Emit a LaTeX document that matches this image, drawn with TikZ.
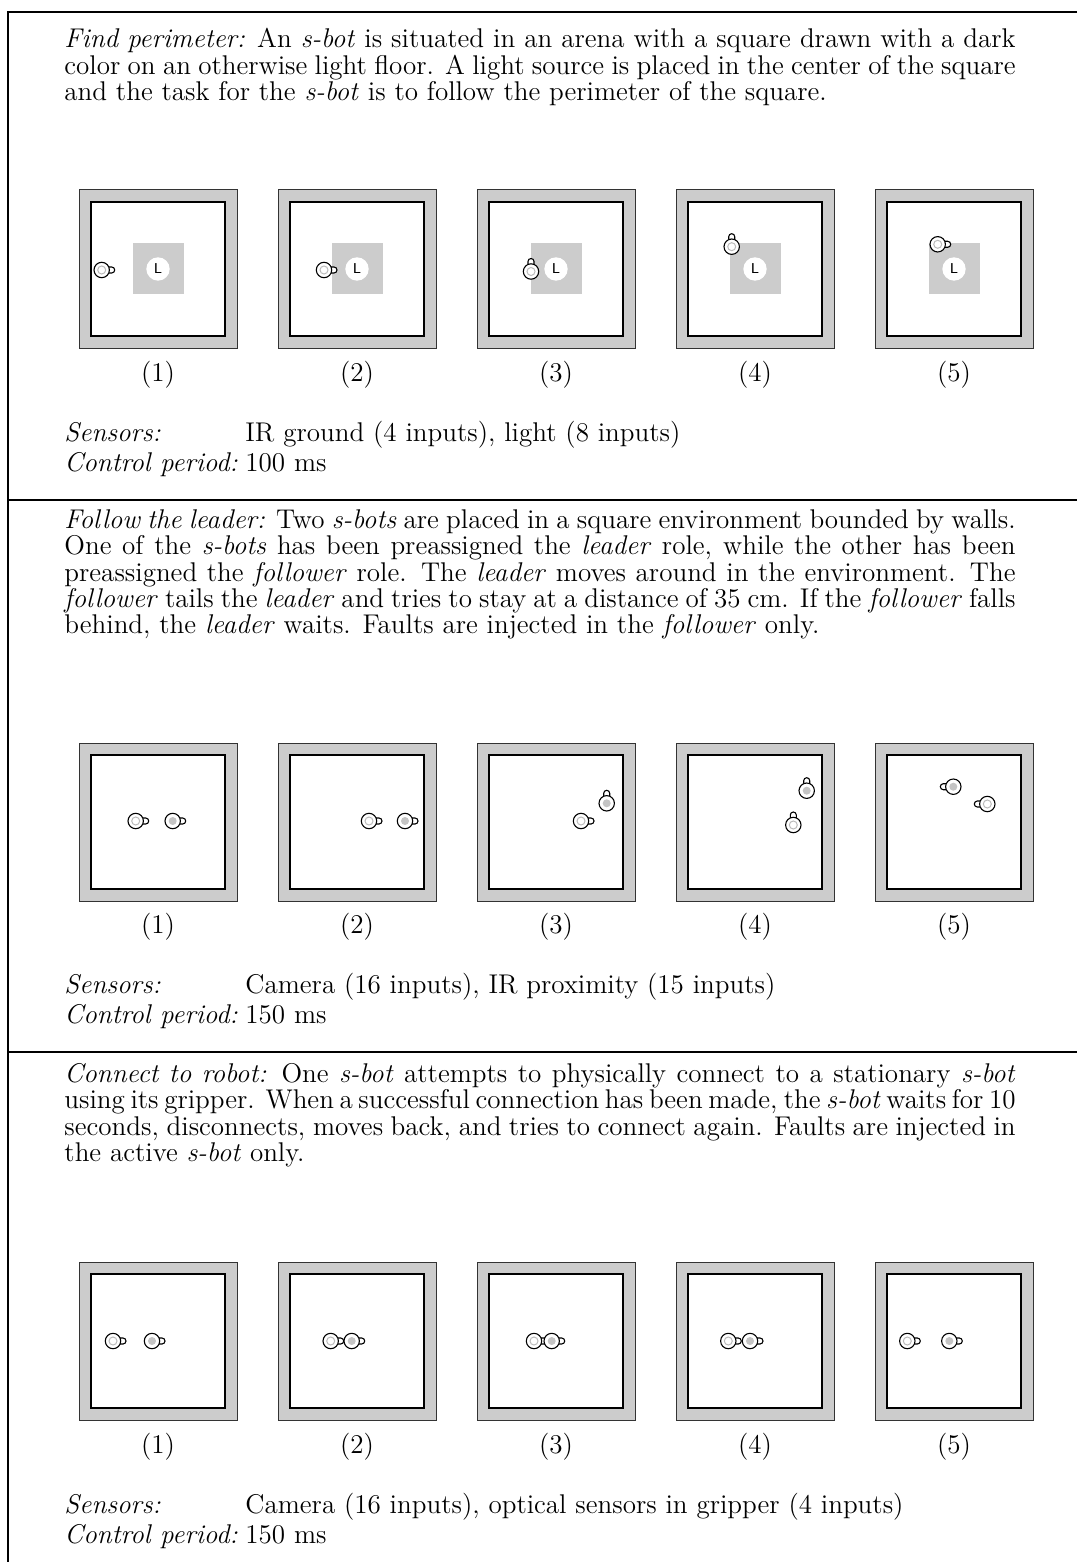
\documentclass[tikz,border=0pt]{standalone}
\usepackage{tikz}
\newlength\tw \setlength\tw{432.3pt}
\definecolor{wallgray}{HTML}{CCCCCC}
\definecolor{ringgray}{HTML}{BBBBBB}
\definecolor{leadgray}{HTML}{C4C4C4}
% robot: x, y, heading angle, inner style
\newcommand\sbot[4]{%
  \begin{scope}[shift={(#1,#2)},rotate=#3]
    \draw[botline,fill=white] (7,-3) -- (10,-3) arc[start angle=-90,end angle=90,radius=3] -- (7,3);
    \draw[botline,fill=white] (0,0) circle[radius=7.7];
    \path[#4] (0,0) circle[radius=4];
  \end{scope}}
\newcommand\arena[2]{%
  \draw[wallc] (#1,#2) rectangle ++(158,158);
  \draw[floorc] (#1+12,#2+12) rectangle ++(134,134);}
\newcommand\parsetup{\tolerance=10000\pretolerance=-1\hyphenpenalty=10000\exhyphenpenalty=10000%
  \spaceskip=\fontdimen2\font plus 1.5\fontdimen3\font minus 1.6\fontdimen4\font\relax}
\begin{document}
\begin{tikzpicture}[x=0.4545pt,y=-0.4545pt,
  every node/.style={font=\fontsize{12.3}{12}\selectfont},
  frame/.style={line width=0.95pt,black},
  wallc/.style={fill=wallgray,draw=black!80,line width=0.45pt},
  floorc/.style={fill=white,draw=black,line width=0.6pt},
  botline/.style={draw=black,line width=0.5pt},
  follower/.style={draw=ringgray,line width=0.45pt},
  leader/.style={fill=leadgray},
  para/.style={anchor=north west,inner sep=0pt,text width=\tw,align=justify},
  lbl/.style={anchor=mid west,inner sep=0pt},
  num/.style={anchor=mid,inner sep=0pt},
  lightsq/.style={fill=wallgray},
  lamp/.style={circle,fill=white,inner sep=0pt,minimum size=10.6pt,font=\fontsize{6.5}{7}\selectfont\sffamily}]
\useasboundingbox (0,0) rectangle (1077,1562);
% frame
\draw[frame] (1077,12) -- (8,12) -- (8,1562);
\draw[frame] (8,500) -- (1077,500);
\draw[frame] (8,1052) -- (1077,1052);

% ---------------- Section 1 ----------------
\node[para] (t1) at (64,28) {\parsetup
\textit{Find perimeter:} An \textit{s-bot} is situated in an arena with a square drawn with a dark\linebreak
color on an otherwise light floor. A light source is placed in the center of the square\linebreak
and the task for the \textit{s-bot} is to follow the perimeter of the square.};
\foreach \i/\x in {1/79,2/278,3/477,4/676,5/875}{
  \arena{\x}{190}
  \fill[lightsq] (\x+53.5,243.5) rectangle ++(51,51);
  \node[lamp] (La\i) at (\x+79,269) {L};
  \node[num] (na\i) at (\x+79,377) {(\i)};
}
\sbot{101.7}{270}{0}{follower}
\sbot{324}{270}{0}{follower}
\sbot{531}{271.5}{90}{follower}
\sbot{731.7}{246.7}{90}{follower}
\sbot{937.7}{244.3}{0}{follower}
\node[lbl] (s1a) at (64,437) {\textit{Sensors:}};
\node[lbl] (s1b) at (245,437) {IR ground (4 inputs), light (8 inputs)};
\node[lbl] (c1a) at (64,467) {\textit{Control period:}};
\node[lbl] (c1b) at (245,467) {100 ms};

% ---------------- Section 2 ----------------
\node[para] (t2) at (64,509) {\parsetup
\textit{Follow the leader:} Two \textit{s-bots} are placed in a square environment bounded by walls.\linebreak
One of the \textit{s-bots} has been preassigned the \textit{leader} role, while the other has been\linebreak
preassigned the \textit{follower} role. The \textit{leader} moves around in the environment. The\linebreak
\textit{follower} tails the \textit{leader} and tries to stay at a distance of 35 cm. If the \textit{follower} falls\linebreak
behind, the \textit{leader} waits. Faults are injected in the \textit{follower} only.};
\foreach \i/\x in {1/79,2/278,3/477,4/676,5/875}{
  \arena{\x}{743}
  \node[num] (nb\i) at (\x+79,929) {(\i)};
}
\sbot{135.7}{821}{0}{follower}
\sbot{172.7}{821}{0}{leader}
\sbot{369}{821}{0}{follower}
\sbot{405}{821}{0}{leader}
\sbot{581}{821}{0}{follower}
\sbot{606.7}{803.3}{90}{leader}
\sbot{793.3}{825}{90}{follower}
\sbot{806.7}{790.7}{90}{leader}
\sbot{953.3}{786.7}{180}{leader}
\sbot{987.3}{804}{180}{follower}
\node[lbl] (s2a) at (64,989) {\textit{Sensors:}};
\node[lbl] (s2b) at (245,989) {Camera (16 inputs), IR proximity (15 inputs)};
\node[lbl] (c2a) at (64,1019) {\textit{Control period:}};
\node[lbl] (c2b) at (245,1019) {150 ms};

% ---------------- Section 3 ----------------
\node[para] (t3) at (64,1063) {\parsetup
\textit{Connect to robot:} One \textit{s-bot} attempts to physically connect to a stationary \textit{s-bot}\linebreak
using its gripper. When a successful connection has been made, the \textit{s-bot} waits for 10\linebreak
seconds, disconnects, moves back, and tries to connect again. Faults are injected in\linebreak
the active \textit{s-bot} only.};
\foreach \i/\x in {1/79,2/278,3/477,4/676,5/875}{
  \arena{\x}{1262}
  \node[num] (nc\i) at (\x+79,1449) {(\i)};
}
\sbot{113}{1341}{0}{follower}
\sbot{152}{1341}{0}{leader}
\sbot{330.7}{1341}{0}{follower}
\sbot{351.7}{1341}{0}{leader}
\sbot{534}{1341}{0}{follower}
\sbot{551.7}{1341}{0}{leader}
\sbot{728.3}{1341}{0}{follower}
\sbot{750}{1341}{0}{leader}
\sbot{907.3}{1341}{0}{follower}
\sbot{949.3}{1341}{0}{leader}
\node[lbl] (s3a) at (64,1509) {\textit{Sensors:}};
\node[lbl] (s3b) at (245,1509) {Camera (16 inputs), optical sensors in gripper (4 inputs)};
\node[lbl] (c3a) at (64,1539) {\textit{Control period:}};
\node[lbl] (c3b) at (245,1539) {150 ms};
\end{tikzpicture}
\end{document}
